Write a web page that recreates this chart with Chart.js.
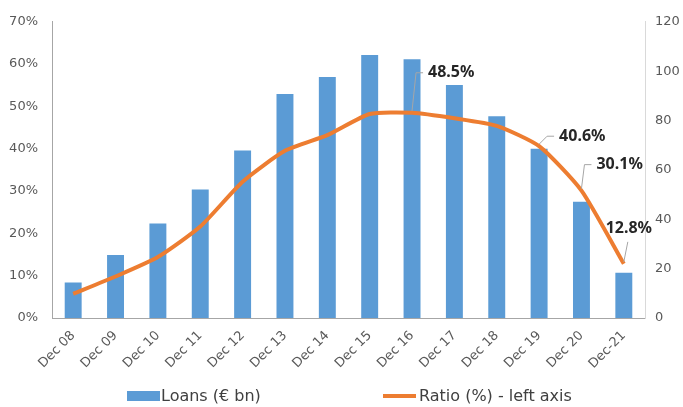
<!DOCTYPE html>
<html>
<head>
<meta charset="utf-8">
<script src="https://cdn.jsdelivr.net/npm/chart.js@4.4.1/dist/chart.umd.min.js"></script>
<style>
  html, body { margin: 0; padding: 0; background: #fff; }
  #wrap { position: relative; width: 683px; height: 407px; }
  #legend { position: absolute; left: 0; top: 386px; width: 683px; height: 20px;
            font-family: "DejaVu Sans", sans-serif; font-size: 16px; color: #404040; }
  #legend span { position: absolute; top: 0; line-height: 20px; white-space: nowrap; }
  .box { width: 33px; height: 10px; top: 5px !important; background: #5B9BD5; }
  .ln { width: 33px; height: 4px; top: 8px !important; background: #ED7D31; }
</style>
</head>
<body>
<div id="wrap">
  <canvas id="chart"></canvas>
  <div id="legend">
    <span class="box" style="left:127px"></span>
    <span style="left:161px">Loans (€ bn)</span>
    <span class="ln" style="left:383px"></span>
    <span style="left:419px">Ratio (%) - left axis</span>
  </div>
</div>
<script>
const categories = ['Dec 08', 'Dec 09', 'Dec 10', 'Dec 11', 'Dec 12', 'Dec 13', 'Dec 14',
                    'Dec 15', 'Dec 16', 'Dec 17', 'Dec 18', 'Dec 19', 'Dec 20', 'Dec-21'];
const loans = [14.4, 25.5, 38.3, 52.1, 67.9, 90.8, 97.6, 106.5, 104.8, 94.4, 81.7, 68.6, 47.1, 18.3];
const ratio = [5.7, 9.8, 14.4, 21.6, 32.2, 39.5, 43.2, 48.2, 48.5, 47.2, 45.4, 40.6, 30.1, 12.8];
const leftTicks = [0, 10, 20, 30, 40, 50, 60, 70];
const rightTicks = [0, 20, 40, 60, 80, 100, 120];

// which ratio points get a callout label, and where the text sits relative to the point
const callouts = [
  { index: 8, dx: 16, dy: -40, align: 'left' },
  { index: 11, dx: 20, dy: -10, align: 'left' },
  { index: 12, dx: 15, dy: -26, align: 'left' },
  { index: 13, dx: 5, dy: -35, align: 'center' }
];

const calloutPlugin = {
  id: 'callouts',
  afterDatasetsDraw(chart) {
    const ctx = chart.ctx;
    const meta = chart.getDatasetMeta(1);
    ctx.save();
    ctx.font = 'bold 16px "Noto Sans"';
    ctx.textBaseline = 'middle';
    callouts.forEach(c => {
      const pt = meta.data[c.index];
      const px = pt.x, py = pt.y;
      const tx = px + c.dx, ty = py + c.dy;
      ctx.strokeStyle = '#a6a6a6';
      ctx.lineWidth = 1;
      ctx.beginPath();
      if (c.align === 'left') {
        ctx.moveTo(px, py - 2);
        ctx.lineTo(tx - 12, ty);
        ctx.lineTo(tx - 5, ty);
      } else {
        ctx.moveTo(px, py - 2);
        ctx.lineTo(tx - 1, ty + 13);
      }
      ctx.stroke();
      ctx.fillStyle = '#262626';
      ctx.textAlign = c.align;
      ctx.fillText(ratio[c.index].toFixed(1) + '%', tx, ty);
    });
    ctx.restore();
  }
};

new Chart(document.getElementById('chart'), {
  data: {
    labels: categories,
    datasets: [
      {
        type: 'bar',
        label: 'Loans (€ bn)',
        data: loans,
        yAxisID: 'y1',
        backgroundColor: '#5B9BD5',
        borderWidth: 0,
        categoryPercentage: 1,
        barPercentage: 0.4,
        order: 1
      },
      {
        type: 'line',
        label: 'Ratio (%) - left axis',
        data: ratio,
        yAxisID: 'y',
        borderColor: '#ED7D31',
        backgroundColor: '#ED7D31',
        borderWidth: 4,
        pointRadius: 0,
        tension: 0.2,
        order: 0
      }
    ]
  },
  options: {
    responsive: true,
    maintainAspectRatio: false,
    animation: false,
    layout: { padding: { top: 21, bottom: 34, left: 0, right: 0 } },
    plugins: {
      legend: { display: false },
      tooltip: { enabled: false }
    },
    scales: {
      x: {
        grid: { display: false, drawTicks: false },
        border: { color: '#a6a6a6' },
        ticks: {
          color: '#595959',
          font: { family: 'DejaVu Sans', size: 13 },
          maxRotation: 45,
          minRotation: 45,
          padding: 10
        },
        afterFit: s => { s.height = 55; }
      },
      y: {
        position: 'left',
        min: 0,
        max: 70,
        afterBuildTicks: s => { s.ticks = leftTicks.map(v => ({ value: v })); },
        grid: { display: false, drawTicks: false },
        border: { color: '#a6a6a6' },
        ticks: {
          color: '#595959',
          font: { family: 'DejaVu Sans', size: 13 },
          padding: 14,
          callback: v => v + '%'
        },
        afterFit: s => { s.width = 52; }
      },
      y1: {
        position: 'right',
        min: 0,
        max: 120,
        afterBuildTicks: s => { s.ticks = rightTicks.map(v => ({ value: v })); },
        grid: { display: false, drawTicks: false },
        border: { color: '#d9d9d9' },
        ticks: {
          color: '#595959',
          font: { family: 'DejaVu Sans', size: 13 },
          padding: 10
        },
        afterFit: s => { s.width = 38; }
      }
    }
  },
  plugins: [calloutPlugin]
});
</script>
</body>
</html>
